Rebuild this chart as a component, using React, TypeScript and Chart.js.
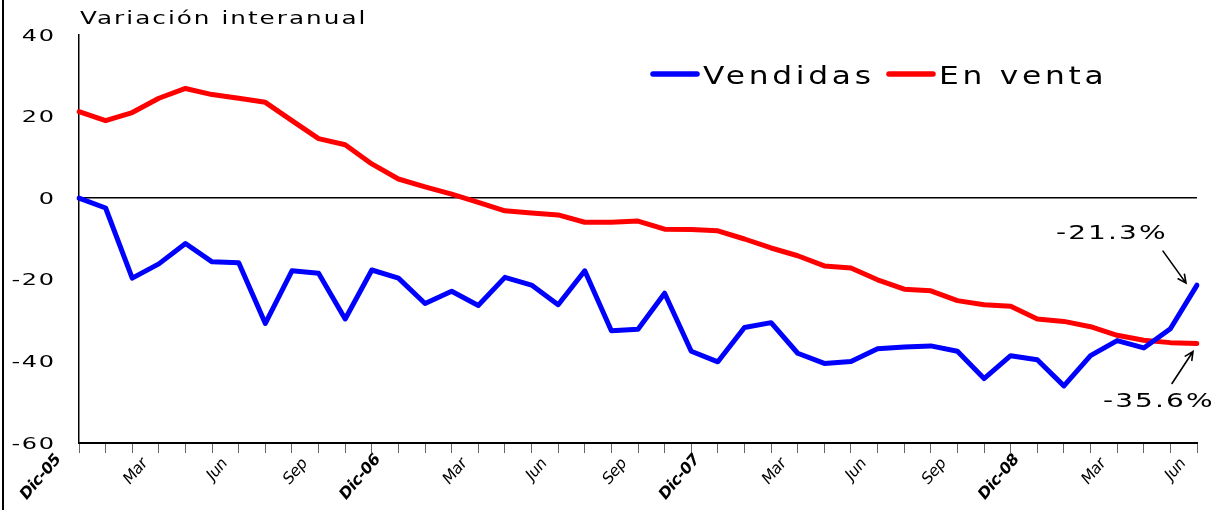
import React, { useEffect, useRef } from 'react';
import { Chart, registerables } from 'chart.js';

Chart.register(...registerables);

const categories = [
  'Dic-05', 'Ene-06', 'Feb-06', 'Mar-06', 'Abr-06', 'May-06', 'Jun-06', 'Jul-06', 'Ago-06', 'Sep-06', 'Oct-06', 'Nov-06',
  'Dic-06', 'Ene-07', 'Feb-07', 'Mar-07', 'Abr-07', 'May-07', 'Jun-07', 'Jul-07', 'Ago-07', 'Sep-07', 'Oct-07', 'Nov-07',
  'Dic-07', 'Ene-08', 'Feb-08', 'Mar-08', 'Abr-08', 'May-08', 'Jun-08', 'Jul-08', 'Ago-08', 'Sep-08', 'Oct-08', 'Nov-08',
  'Dic-08', 'Ene-09', 'Feb-09', 'Mar-09', 'Abr-09', 'May-09', 'Jun-09',
];

const tickLabels = [
  'Dic-05', '', '', 'Mar', '', '', 'Jun', '', '', 'Sep', '', '',
  'Dic-06', '', '', 'Mar', '', '', 'Jun', '', '', 'Sep', '', '',
  'Dic-07', '', '', 'Mar', '', '', 'Jun', '', '', 'Sep', '', '',
  'Dic-08', '', '', 'Mar', '', '', 'Jun',
];

const vendidas = [
  0, -2.4, -19.6, -16.1, -11.1, -15.6, -15.8, -30.7, -17.8, -18.4, -29.6, -17.6,
  -19.6, -25.8, -22.8, -26.3, -19.4, -21.3, -26.1, -17.8, -32.5, -32.1, -23.3, -37.5,
  -40.1, -31.7, -30.5, -38.0, -40.5, -40.0, -36.9, -36.5, -36.2, -37.5, -44.2, -38.6,
  -39.6, -46.0, -38.6, -34.9, -36.7, -32.0, -21.3,
];

const enVenta = [
  21.2, 19.0, 21.0, 24.5, 26.9, 25.4, 24.5, 23.5, 19.0, 14.6, 13.1, 8.4,
  4.7, 2.8, 1.0, -1.0, -3.1, -3.6, -4.1, -5.9, -5.9, -5.6, -7.6, -7.7,
  -8.0, -10.0, -12.2, -14.1, -16.6, -17.1, -20.0, -22.3, -22.7, -25.1, -26.1, -26.5,
  -29.6, -30.2, -31.5, -33.6, -34.8, -35.4, -35.6,
];

const seriesNames = ['Vendidas', 'En venta'];
const seriesColors = ['#0000FF', '#FF0000'];
const yMin = -60;
const yMax = 40;
const yStep = 20;
const axisTitle = 'Variación interanual';
const FONT = '"DejaVu Sans", Verdana, sans-serif';

type TextOpts = {
  font: string;
  sx?: number;
  spacing?: number;
  align?: 'left' | 'right' | 'center';
  color?: string;
};

function drawText(ctx: CanvasRenderingContext2D, text: string, x: number, y: number, o: TextOpts) {
  ctx.save();
  ctx.font = o.font;
  ctx.fillStyle = o.color || '#000';
  const sp = o.spacing || 0;
  (ctx as any).letterSpacing = `${sp}px`;
  ctx.textBaseline = 'alphabetic';
  ctx.textAlign = 'left';
  const sx = o.sx || 1;
  const w = (ctx.measureText(text).width - sp) * sx;
  let left = x;
  if (o.align === 'right') left = x - w;
  else if (o.align === 'center') left = x - w / 2;
  ctx.translate(left, y);
  ctx.scale(sx, 1);
  ctx.fillText(text, 0, 0);
  ctx.restore();
  return w;
}

function drawArrow(ctx: CanvasRenderingContext2D, x1: number, y1: number, x2: number, y2: number) {
  const a = Math.atan2(y2 - y1, x2 - x1);
  const h = 9;
  const spread = 0.45;
  ctx.save();
  ctx.strokeStyle = '#000';
  ctx.lineWidth = 1.6;
  ctx.lineCap = 'round';
  ctx.beginPath();
  ctx.moveTo(x1, y1);
  ctx.lineTo(x2, y2);
  ctx.moveTo(x2 - h * Math.cos(a - spread), y2 - h * Math.sin(a - spread));
  ctx.lineTo(x2, y2);
  ctx.lineTo(x2 - h * Math.cos(a + spread), y2 - h * Math.sin(a + spread));
  ctx.stroke();
  ctx.restore();
}

const decorPlugin = {
  id: 'decor',
  beforeDraw(chart: any) {
    const ctx: CanvasRenderingContext2D = chart.ctx;
    ctx.save();
    ctx.fillStyle = '#000';
    ctx.fillRect(2, 0, 2, chart.height);
    ctx.restore();
  },
  afterDraw(chart: any) {
    const ctx: CanvasRenderingContext2D = chart.ctx;
    const xs = chart.scales.x;
    const ys = chart.scales.y;

    // axis title
    drawText(ctx, axisTitle, 80, 24, { font: `17px ${FONT}`, sx: 1.45, spacing: 1.4 });

    // y tick labels
    ys.ticks.forEach((t: any) => {
      const y = ys.getPixelForValue(t.value);
      drawText(ctx, String(t.value), 54, y + 5.5, { font: `15px ${FONT}`, sx: 1.6, spacing: 1, align: 'right' });
    });

    // x tick labels
    xs.ticks.forEach((_t: any, i: number) => {
      const lab = tickLabels[i];
      if (!lab) return;
      const px = xs.getPixelForTick(i);
      const bold = lab.startsWith('Dic');
      ctx.save();
      ctx.translate(px + (bold ? -26 : -19), bold ? 451 : 455);
      ctx.scale(0.85, 1);
      ctx.rotate(-Math.PI / 4);
      ctx.font = `${bold ? 'bold ' : ''}17px ${FONT}`;
      (ctx as any).letterSpacing = '-0.5px';
      ctx.textAlign = 'right';
      ctx.textBaseline = 'top';
      ctx.fillStyle = '#000';
      ctx.fillText(lab, 0, 0);
      ctx.restore();
    });

    // legend
    let lx = 653;
    chart.data.datasets.forEach((ds: any) => {
      ctx.save();
      ctx.strokeStyle = ds.borderColor;
      ctx.lineWidth = 5.5;
      ctx.lineCap = 'round';
      ctx.beginPath();
      ctx.moveTo(lx, 74);
      ctx.lineTo(lx + 44, 74);
      ctx.stroke();
      ctx.restore();
      const w = drawText(ctx, ds.label, lx + 50, 84, { font: `25px ${FONT}`, sx: 1.25, spacing: 3 });
      lx = lx + 50 + w + 18;
    });

    // end-value annotations
    const last = categories.length - 1;
    const px = xs.getPixelForValue(last);
    const vB = vendidas[last];
    const vR = enVenta[last];
    const pyB = ys.getPixelForValue(vB);
    const pyR = ys.getPixelForValue(vR);
    const annFont = `20px ${FONT}`;
    drawText(ctx, `${vB.toFixed(1)}%`, px - 141, pyB - 46, { font: annFont, sx: 1.4, spacing: 1.5 });
    drawArrow(ctx, px - 34, pyB - 34, px - 11, pyB - 2);
    drawText(ctx, `${vR.toFixed(1)}%`, px - 94, pyR + 64, { font: annFont, sx: 1.4, spacing: 1.5 });
    drawArrow(ctx, px - 25, pyR + 40, px - 4, pyR + 8);
  },
};

export default function App() {
  const canvasRef = useRef<HTMLCanvasElement | null>(null);

  useEffect(() => {
    const canvas = canvasRef.current;
    if (!canvas) return;
    const chart = new Chart(canvas, {
      type: 'line',
      data: {
        labels: categories,
        datasets: [
          {
            label: seriesNames[0],
            data: vendidas,
            borderColor: seriesColors[0],
            backgroundColor: seriesColors[0],
            borderWidth: 5,
            pointRadius: 0,
            tension: 0,
            borderJoinStyle: 'round',
            borderCapStyle: 'round',
            fill: false,
          },
          {
            label: seriesNames[1],
            data: enVenta,
            borderColor: seriesColors[1],
            backgroundColor: seriesColors[1],
            borderWidth: 5,
            pointRadius: 0,
            tension: 0,
            borderJoinStyle: 'round',
            borderCapStyle: 'round',
            fill: false,
          },
        ],
      },
      options: {
        responsive: false,
        animation: false,
        events: [],
        layout: { padding: { top: 35, right: 21, bottom: 0, left: 0 } },
        plugins: {
          legend: { display: false },
          tooltip: { enabled: false },
          title: { display: false },
        },
        scales: {
          x: {
            type: 'category',
            offset: false,
            grid: {
              display: true,
              drawOnChartArea: false,
              drawTicks: true,
              tickLength: 10,
              color: '#666',
              lineWidth: 1,
            },
            border: { display: true, color: '#000', width: 2 },
            ticks: { display: false, autoSkip: false },
            afterFit: (s: any) => {
              s.height = 67;
            },
          },
          y: {
            min: yMin,
            max: yMax,
            ticks: { display: false, stepSize: yStep },
            grid: {
              drawTicks: false,
              color: (c: any) => (c.tick && c.tick.value === 0 ? '#000' : 'rgba(0,0,0,0)'),
              lineWidth: 1.5,
            },
            border: { display: true, color: '#000', width: 1.5 },
            afterFit: (s: any) => {
              s.width = 79;
            },
          },
        },
      } as any,
      plugins: [decorPlugin],
    });
    return () => chart.destroy();
  }, []);

  return (
    <div style={{ position: 'fixed', left: 0, top: 0, width: 1218, height: 510, background: '#fff' }}>
      <canvas ref={canvasRef} width={1218} height={510} style={{ width: 1218, height: 510, display: 'block' }} />
    </div>
  );
}
